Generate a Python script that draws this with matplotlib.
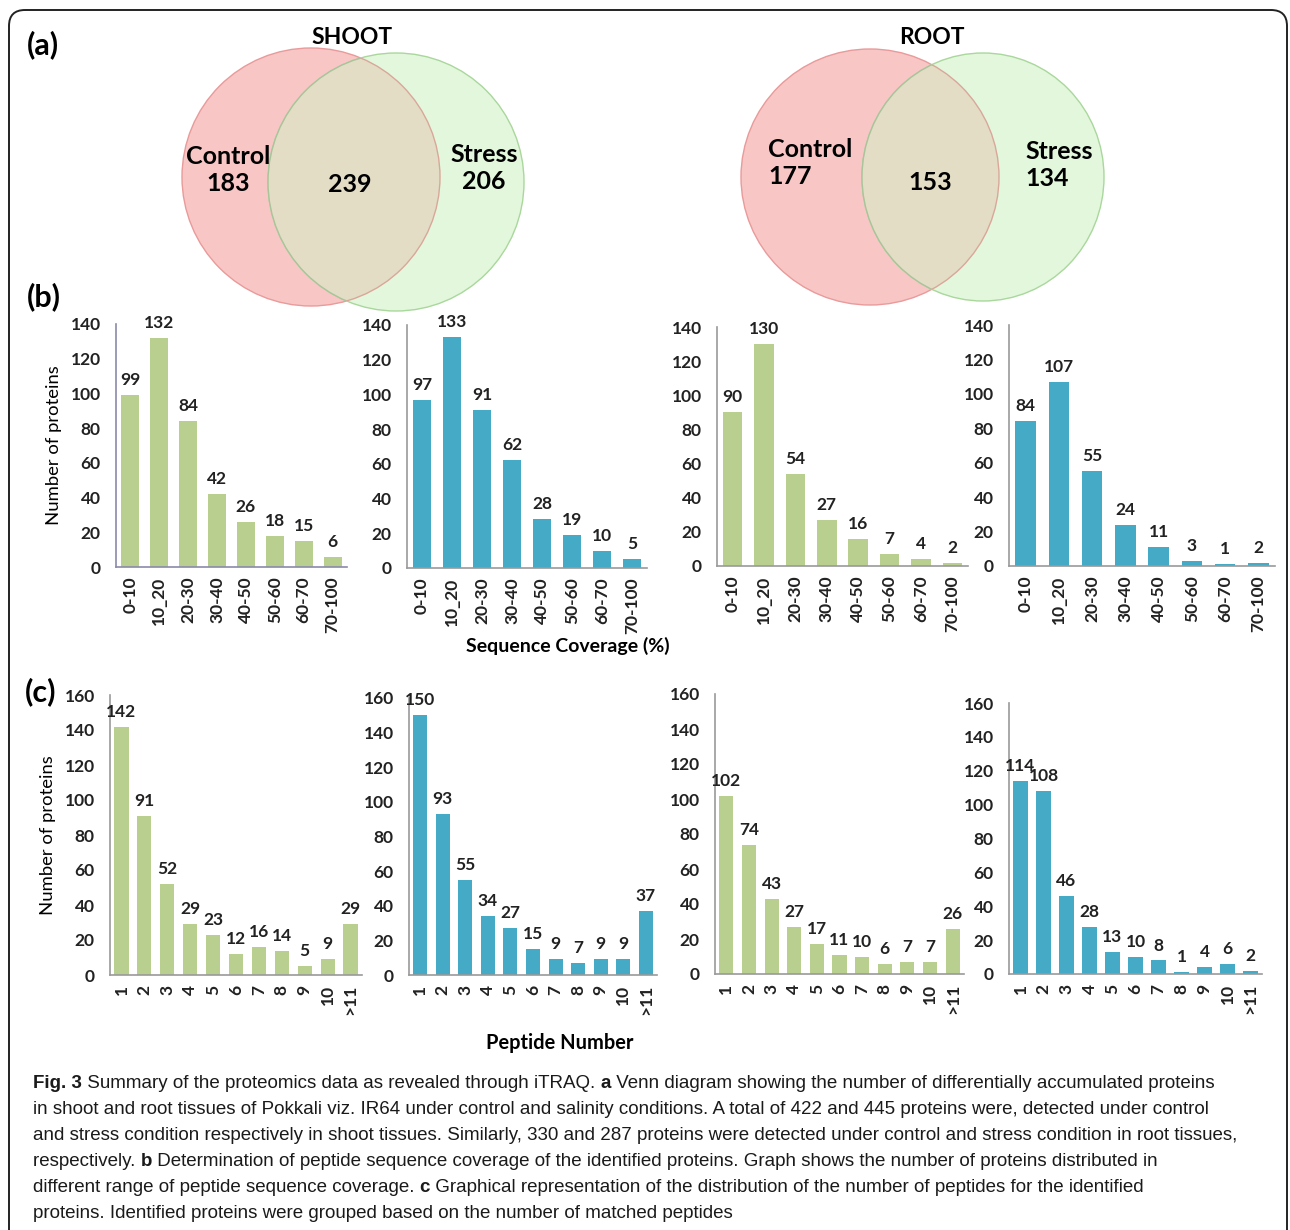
import matplotlib
matplotlib.use("Agg")
import numpy as np
from matplotlib import pyplot as plt
from matplotlib.patches import Ellipse, FancyBboxPatch

# sequence coverage (%) bins and protein counts
coverage_bins = ['0-10', '10_20', '20-30', '30-40', '40-50', '50-60', '60-70', '70-100']
shoot_control_cov = [99, 132, 84, 42, 26, 18, 15, 6]
shoot_stress_cov = [97, 133, 91, 62, 28, 19, 10, 5]
root_control_cov = [90, 130, 54, 27, 16, 7, 4, 2]
root_stress_cov = [84, 107, 55, 24, 11, 3, 1, 2]

# peptide number bins and protein counts
peptide_bins = ['1', '2', '3', '4', '5', '6', '7', '8', '9', '10', '>11']
shoot_control_pep = [142, 91, 52, 29, 23, 12, 16, 14, 5, 9, 29]
shoot_stress_pep = [150, 93, 55, 34, 27, 15, 9, 7, 9, 9, 37]
root_control_pep = [102, 74, 43, 27, 17, 11, 10, 6, 7, 7, 26]
root_stress_pep = [114, 108, 46, 28, 13, 10, 8, 1, 4, 6, 2]

# venn counts: control only, shared, stress only
shoot_venn = [183, 239, 206]
root_venn = [177, 153, 134]

GREEN = '#b9cf8f'
BLUE = '#45aac6'
W, H = 1290, 1230
FONT = ['Lato', 'DejaVu Sans']
CAP_FONT = ['Liberation Sans', 'DejaVu Sans']

plt.rcParams['font.family'] = FONT

fig = plt.figure(figsize=(W / 100, H / 100), dpi=100)

# full-figure pixel-space layer for the frame, venn diagrams and caption
bg = fig.add_axes([0, 0, 1, 1])
bg.set_xlim(0, W)
bg.set_ylim(H, 0)
bg.axis('off')

bg.add_patch(FancyBboxPatch((9, 10), 1278, 1260, boxstyle='round,pad=0,rounding_size=16',
                            fc='none', ec='#222222', lw=1.4))


def venn(cx_left, cx_right, cy, r_left, r_right, title, counts, title_x, spots):
    left = Ellipse((cx_left, cy[0]), 2 * r_left[0], 2 * r_left[1], fc='#f9c6c6', ec='#e99a9a', lw=1.0)
    right = Ellipse((cx_right, cy[1]), 2 * r_right[0], 2 * r_right[1], fc='#e3f7dc', ec='#a9d79c', lw=1.0)
    bg.add_patch(left)
    bg.add_patch(right)
    # shared region
    mid = Ellipse((cx_right, cy[1]), 2 * r_right[0], 2 * r_right[1], fc='#e3ddc5', ec='#a9c49a', lw=1.0)
    bg.add_patch(mid)
    mid.set_clip_path(left)
    edge = Ellipse((cx_left, cy[0]), 2 * r_left[0], 2 * r_left[1], fc='none', ec='#d9a79a', lw=1.0)
    bg.add_patch(edge)
    edge.set_clip_path(right)
    bg.text(title_x, 37, title, ha='center', va='center', fontsize=16.5, fontweight='bold')
    (lx, ly, lha), (mx, my), (rx, ry, rha) = spots
    bg.text(lx, ly, 'Control\n%d' % counts[0], ha=lha, va='center', fontsize=18,
            fontweight='bold', multialignment=lha, linespacing=1.25)
    bg.text(mx, my, '%d' % counts[1], ha='center', va='center', fontsize=18, fontweight='bold')
    bg.text(rx, ry, 'Stress\n%d' % counts[2], ha=rha, va='center', fontsize=18,
            fontweight='bold', multialignment=rha, linespacing=1.25)


venn(311, 396, (177, 182), (129, 129), (128, 129), 'SHOOT', shoot_venn, 352,
     [(228, 170, 'center'), (350, 185), (484, 168, 'center')])
venn(870, 983, (177, 177), (129, 128), (121, 124), 'ROOT', root_venn, 932,
     [(768, 163, 'left'), (930, 182), (1025, 165, 'left')])

bg.text(27, 45, '(a)', ha='left', va='center', fontsize=22, fontweight='bold')
bg.text(27, 297, '(b)', ha='left', va='center', fontsize=22, fontweight='bold')
bg.text(25, 692, '(c)', ha='left', va='center', fontsize=22, fontweight='bold')


def bar_panel(box, cats, vals, color, top, step, spine='#9a9a9a', ylabel=None):
    x0, x1, y_top, y_bot = box
    ax = fig.add_axes([x0 / W, 1 - y_bot / H, (x1 - x0) / W, (y_bot - y_top) / H])
    ax.patch.set_alpha(0)
    pos = np.arange(len(vals))
    ax.bar(pos, vals, width=0.62, color=color)
    for p, v in zip(pos, vals):
        ax.annotate(str(v), (p, v), xytext=(0, 5), textcoords='offset points',
                    ha='center', va='bottom', fontsize=12.5, fontweight='bold', color='#222222')
    ax.set_xlim(-0.5, len(vals) - 0.5)
    ax.set_ylim(0, top)
    ax.set_yticks(np.arange(0, top + 1, step))
    ax.set_xticks(pos)
    ax.set_xticklabels(cats, rotation=90)
    for s in ('top', 'right'):
        ax.spines[s].set_visible(False)
    for s in ('left', 'bottom'):
        ax.spines[s].set_color(spine)
        ax.spines[s].set_linewidth(1.2)
    ax.tick_params(length=0, labelsize=12.5, colors='#222222')
    ax.tick_params(axis='y', pad=11)
    ax.tick_params(axis='x', pad=7)
    for lab in ax.get_xticklabels() + ax.get_yticklabels():
        lab.set_fontweight('bold')
    if ylabel:
        ax.set_ylabel(ylabel, fontsize=13.3, labelpad=6)
    return ax


bar_panel((116, 347, 324, 567), coverage_bins, shoot_control_cov, GREEN, 140, 20,
          spine='#8a8aaa', ylabel='Number of proteins')
bar_panel((407, 647, 325, 568), coverage_bins, shoot_stress_cov, BLUE, 140, 20)
bar_panel((717, 968, 327, 566), coverage_bins, root_control_cov, GREEN, 140, 20)
bar_panel((1009, 1275, 325, 566), coverage_bins, root_stress_cov, BLUE, 140, 20)

bar_panel((110, 362, 695, 975), peptide_bins, shoot_control_pep, GREEN, 160, 20,
          ylabel='Number of proteins')
bar_panel((409, 657, 698, 975), peptide_bins, shoot_stress_pep, BLUE, 160, 20)
bar_panel((715, 964, 694, 974), peptide_bins, root_control_pep, GREEN, 160, 20)
bar_panel((1009, 1262, 703, 974), peptide_bins, root_stress_pep, BLUE, 160, 20)

bg.text(568, 646, 'Sequence Coverage (%)', ha='center', va='center', fontsize=14, fontweight='bold')
bg.text(560, 1043, 'Peptide Number', ha='center', va='center', fontsize=14.4, fontweight='bold')

# caption, with bold runs chained one after another
caption = [
    [('Fig. 3', True), (' Summary of the proteomics data as revealed through iTRAQ. ', False),
     ('a', True), (' Venn diagram showing the number of differentially accumulated proteins', False)],
    [('in shoot and root tissues of Pokkali viz. IR64 under control and salinity conditions. '
      'A total of 422 and 445 proteins were, detected under control', False)],
    [('and stress condition respectively in shoot tissues. Similarly, 330 and 287 proteins were '
      'detected under control and stress condition in root tissues,', False)],
    [('respectively. ', False), ('b', True),
     (' Determination of peptide sequence coverage of the identified proteins. '
      'Graph shows the number of proteins distributed in', False)],
    [('different range of peptide sequence coverage. ', False), ('c', True),
     (' Graphical representation of the distribution of the number of peptides for the identified', False)],
    [('proteins. Identified proteins were grouped based on the number of matched peptides', False)],
]
for i, parts in enumerate(caption):
    y = 1083 + i * 26.2
    prev = None
    for text, bold in parts:
        kw = dict(fontsize=13.5, family=CAP_FONT, fontweight='bold' if bold else 'normal',
                  color='#1a1a1a', va='center', ha='left')
        if prev is None:
            prev = bg.text(33, y, text, **kw)
        else:
            prev = bg.annotate(text, xy=(1, 0.5), xycoords=prev, **kw)

fig.savefig('out.png', dpi=100)
